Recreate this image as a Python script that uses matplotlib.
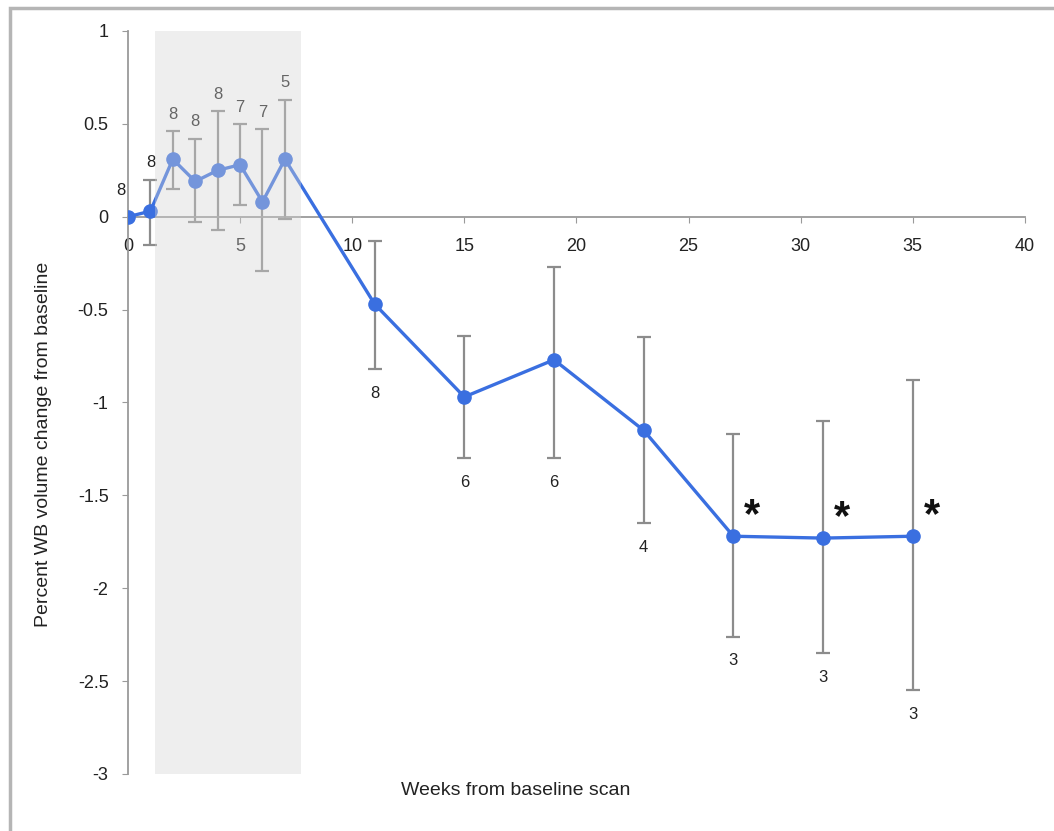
import matplotlib.pyplot as plt
from matplotlib.patches import Rectangle

plt.rcParams['font.family'] = ['Liberation Sans', 'DejaVu Sans']

# data
weeks = [0, 1, 2, 3, 4, 5, 6, 7, 11, 15, 19, 23, 27, 31, 35]
change = [0.0, 0.03, 0.31, 0.19, 0.25, 0.28, 0.08, 0.31,
          -0.47, -0.97, -0.77, -1.15, -1.72, -1.73, -1.72]
err_top = [0.0, 0.20, 0.46, 0.42, 0.57, 0.50, 0.47, 0.63,
           -0.13, -0.64, -0.27, -0.65, -1.17, -1.10, -0.88]
err_bottom = [0.0, -0.15, 0.15, -0.03, -0.07, 0.065, -0.29, -0.01,
              -0.82, -1.30, -1.30, -1.65, -2.26, -2.35, -2.55]
n_labels = ['8', '8', '8', '8', '8', '7', '7', '5', '8', '6', '6', '4', '3', '3', '3']
signif = [27, 31, 35]
shade_span = (1.2, 7.7)

lower = [c - b for c, b in zip(change, err_bottom)]
upper = [t - c for c, t in zip(change, err_top)]

fig = plt.figure(figsize=(10.54, 8.31), dpi=100)
ax = fig.add_axes([0.1214, 0.0686, 0.851, 0.8941])

# outer frame
fig.patches.append(Rectangle((0.0095, -0.05), 1.2, 1.04, transform=fig.transFigure,
                             fill=False, edgecolor='#b5b5b5', linewidth=2.5))

ax.errorbar(weeks, change, yerr=[lower, upper], fmt='none', ecolor='#8c8c8c',
            elinewidth=1.6, capsize=5, capthick=1.6, zorder=2)
ax.plot(weeks, change, color='#3a6fe0', lw=2.4, marker='o', ms=9.5, zorder=3)

ax.add_patch(Rectangle((shade_span[0], -3), shade_span[1] - shade_span[0], 4,
                       facecolor='#d4d4d4', edgecolor='none', alpha=0.38, zorder=6))

# sample size labels
for x, c, t, b, n in zip(weeks, change, err_top, err_bottom, n_labels):
    if x == 0:
        ax.text(x - 0.3, c + 0.1, n, ha='center', va='bottom', fontsize=12, color='#222222')
    elif x <= 7:
        ax.text(x, t + 0.05, n, ha='center', va='bottom', fontsize=12, color='#222222')
    else:
        ax.text(x, b - 0.09, n, ha='center', va='top', fontsize=12, color='#222222')

for x in signif:
    y = change[weeks.index(x)]
    ax.text(x + 0.85, y + 0.0, '*', ha='center', va='bottom', fontsize=30,
            fontweight='bold', color='#111111')

ax.set_xlim(0, 40)
ax.set_ylim(-3, 1)
ax.set_xticks(range(0, 41, 5))
ax.set_yticks([1, 0.5, 0, -0.5, -1, -1.5, -2, -2.5, -3])
ax.set_yticklabels(['1', '0.5', '0', '-0.5', '-1', '-1.5', '-2', '-2.5', '-3'])

ax.spines['top'].set_visible(False)
ax.spines['right'].set_visible(False)
ax.spines['bottom'].set_position(('data', 0))
for s in ('left', 'bottom'):
    ax.spines[s].set_color('#9a9a9a')
    ax.spines[s].set_linewidth(1.3)
ax.tick_params(axis='both', colors='#9a9a9a', labelcolor='#222222', labelsize=13, length=4)
ax.tick_params(axis='x', pad=11)
ax.tick_params(axis='y', pad=10)

fig.text(0.041, 0.465, 'Percent WB volume change from baseline', rotation=90,
         ha='center', va='center', fontsize=14, color='#222222')
fig.text(0.489, 0.049, 'Weeks from baseline scan', ha='center', va='center',
         fontsize=14, color='#222222')

fig.savefig('out.png', dpi=100)
